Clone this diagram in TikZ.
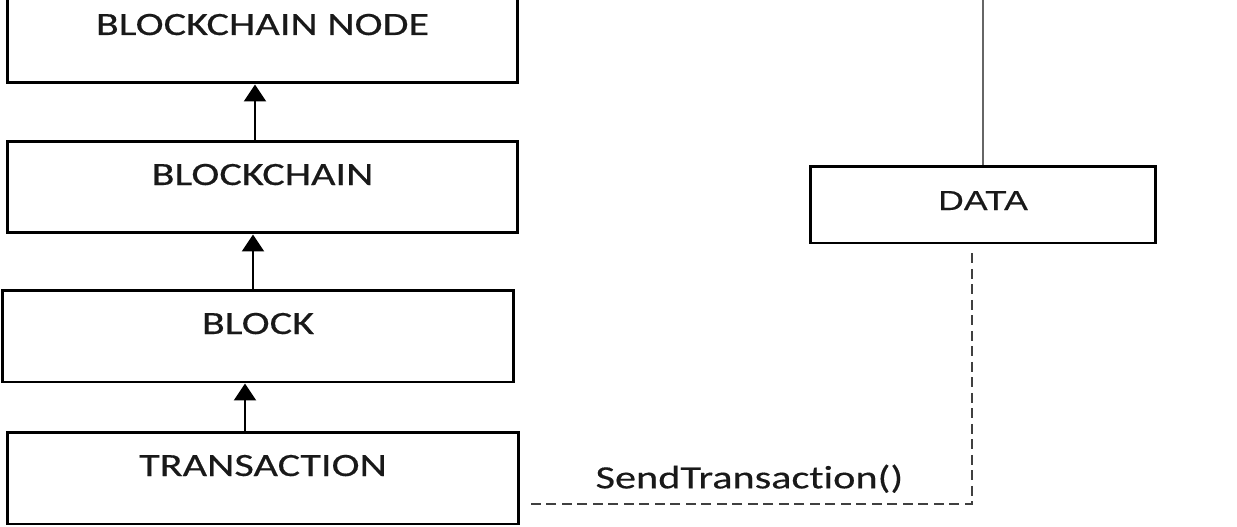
\documentclass[tikz,border=0pt]{standalone}
\usepackage{fontspec}
\newfontfamily\boxfont{Carlito}[FakeStretch=1.3, FakeBold=0.4, Ligatures=NoCommon]
\newfontfamily\datafont{Liberation Sans}[FakeStretch=1.3, FakeBold=0.4]
\usetikzlibrary{arrows.meta}
\begin{document}
\begin{tikzpicture}[
  x=0.02cm, y=-0.02cm,
  box/.style={draw, line width=1.7pt, inner sep=0pt, minimum width=10.22cm, minimum height=1.84cm,
    text height=0.5cm, text depth=0.58cm, font=\boxfont\fontsize{18.5}{20}\selectfont, text=black!90},
  databox/.style={box, minimum width=6.92cm, minimum height=1.54cm, text depth=0.28cm,
    font=\datafont\fontsize{15.6}{18}\selectfont},
  arr/.style={line width=1.2pt, -{Triangle[width=0.44cm,length=0.34cm]}},
  dsh/.style={line width=1.3pt, black!75, dash pattern=on 0.2cm off 0.11cm}
]
\useasboundingbox (0,0) rectangle (1237,527);
\clip (0,0) rectangle (1237,527);
\node[box] (bcnode) at (262.5,37) {BLOCKCHAIN NODE};
\node[box] (chain) at (262.5,187) {BLOCKCHAIN};
\node[box] (block) at (258,336) {BLOCK};
\node[box] (tx) at (263,478) {TRANSACTION};
\node[databox] (data) at (983,204.5) {DATA};
\coordinate (up) at (983,-20);
\coordinate (turn) at (972,504);
\draw[arr] ([xshift=-0.36cm]tx.north) -- ([xshift=-0.36cm]tx.north |- block.south);
\draw[arr] ([xshift=-0.1cm]block.north) -- ([xshift=-0.1cm]block.north |- chain.south);
\draw[arr] ([xshift=-0.15cm]chain.north) -- ([xshift=-0.15cm]chain.north |- bcnode.south);
\draw[line width=1.5pt, black!60] (data.north) -- (up);
\draw[dsh] ([yshift=-0.18cm]data.south -| turn) -- (turn)
  -- node[above=0.2cm, inner sep=0pt, text=black!90, font=\boxfont\fontsize{18.5}{20}\selectfont] (send) {SendTransaction()}
  ([xshift=0.14cm]tx.east |- turn);
\end{tikzpicture}
\end{document}
